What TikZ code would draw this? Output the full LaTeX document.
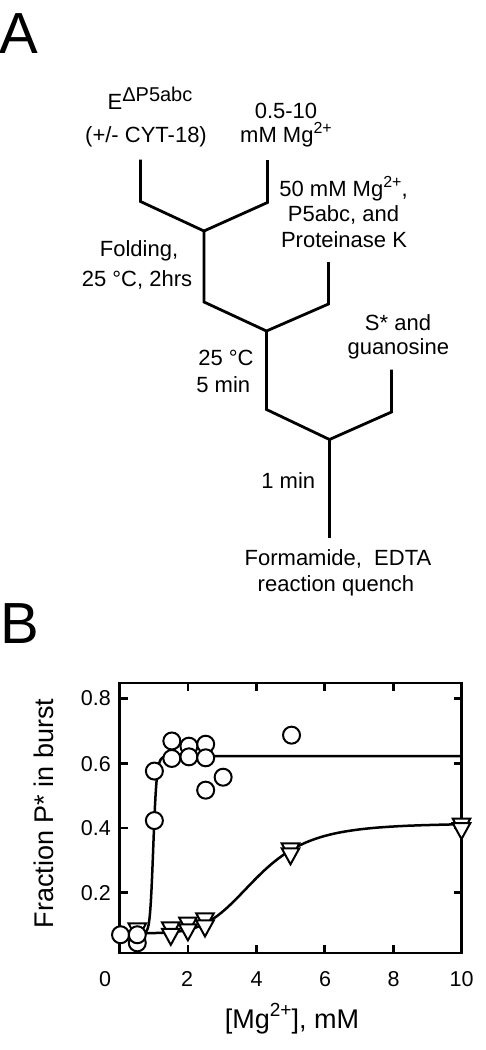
\documentclass[tikz,border=0pt]{standalone}
\usepackage{fontspec}
\setmainfont{Liberation Sans}
\newcommand\sups[3]{\raisebox{#1}{\fontsize{#2}{#2}\selectfont #3}}
\begin{document}
\begin{tikzpicture}[x=1pt,y=-1pt,
  branch/.style={line width=2.8pt, line join=miter},
  lbl/.style={font=\fontsize{22}{24}\selectfont, inner sep=0pt, anchor=base},
  ticklbl/.style={font=\fontsize{21.5}{24}\selectfont, inner sep=0pt},
  axlbl/.style={font=\fontsize{27}{30}\selectfont, inner sep=0pt, anchor=base},
  panel/.style={font=\fontsize{58}{60}\selectfont, inner sep=0pt, anchor=base west},
  frame/.style={line width=2.8pt},
  fitline/.style={line width=2.5pt, line join=round},
  mk/.style={line width=2pt, draw=black, fill=white},
  tri/.pic={\draw[mk] (-8.8pt,7.5pt) -- (8.8pt,7.5pt) -- (0pt,-8.5pt) -- cycle;}]
\useasboundingbox (0,0) rectangle (485,1050);

% ---------- Panel A ----------
\node[panel] (pA) at (-1,53.5) {A};

\coordinate (l1t) at (140.5,159.5);
\coordinate (l1b) at (140.5,201.5);
\coordinate (r1t) at (267.5,160);
\coordinate (r1b) at (267.5,202.5);
\coordinate (j1) at (204,231);
\coordinate (s1) at (204,302);
\coordinate (r2t) at (328.5,262);
\coordinate (r2b) at (328.5,304);
\coordinate (j2) at (266.5,331);
\coordinate (s2) at (266.5,409.5);
\coordinate (r3t) at (391.5,369.5);
\coordinate (r3b) at (391.5,412);
\coordinate (j3) at (329.5,439.5);
\coordinate (s3) at (329.5,538);

\draw[branch] (l1t) -- (l1b) -- (j1) -- (r1b) -- (r1t);
\draw[branch] (j1) -- (s1) -- (j2) -- (r2b) -- (r2t);
\draw[branch] (j2) -- (s2) -- (j3) -- (r3b) -- (r3t);
\draw[branch] (j3) -- (s3);

\node[lbl] (e1) at (150,109) {E\sups{0.36em}{20}{ΔP5abc}};
\node[lbl] (e2) at (146,142) {(+/- CYT-18)};
\node[lbl] (m1) at (286,118.3) {0.5-10};
\node[lbl] (m2) at (286,142.5) {mM Mg\sups{0.4em}{16}{2+}};
\node[lbl] (p1) at (343.5,196.7) {50 mM Mg\sups{0.4em}{16}{2+},};
\node[lbl] (p2) at (343.5,221.7) {P5abc, and};
\node[lbl] (p3) at (344,247) {Proteinase K};
\node[lbl] (f1) at (139,256.7) {Folding,};
\node[lbl] (f2) at (137,286.7) {25 °C, 2hrs};
\node[lbl] (g1) at (398,330) {S* and};
\node[lbl] (g2) at (398.3,354.5) {guanosine};
\node[lbl] (c1) at (226,365) {25 °C};
\node[lbl] (c2) at (223.3,392.7) {5 min};
\node[lbl] (n1) at (288.3,488.3) {1 min};
\node[lbl] (q1) at (338,565) {Formamide,~ EDTA};
\node[lbl] (q2) at (336,591) {reaction quench};

% ---------- Panel B ----------
\node[panel] (pB) at (0,643) {B};

\begin{scope}[shift={(119.5pt,-957.4pt)}, x=34.2pt, y=323.5pt]
  \draw[frame] (0,0.0136) rectangle (10,0.8482);
  \foreach \t in {2,4,6,8} {
    \draw[frame] (\t,0.0136) -- ++(0pt,8pt);
    \draw[frame] (\t,0.8482) -- ++(0pt,-8pt);
  }
  \foreach \t in {0.2,0.4,0.6,0.8} {
    \draw[frame] (0,\t) -- ++(8pt,0pt);
    \draw[frame] (10,\t) -- ++(-8pt,0pt);
  }
  % fits
  \draw[fitline] (0.5,0.0755) -- plot[domain=0.8:10, samples=90] (\x,{0.075+0.34/(1+pow(4/\x,5))});
  \draw[fitline] (0.03,0.076) -- plot[domain=0.75:1.6, samples=60] (\x,{0.076+0.546/(1+pow(0.99/\x,20))}) -- (10,0.622);
  % triangles
  \foreach \p in {(0.52,0.082),(1.5,0.085),(1.5,0.065),(2.0,0.1),(2.0,0.079),(2.5,0.113),(2.5,0.091),(5.0,0.329),(5.0,0.314),(10,0.406),(10,0.392)}
    \pic at \p {tri};
  % circles
  \foreach \p in {(0.03,0.07),(0.52,0.045),(0.52,0.07),(1.02,0.423),(1.02,0.576),(1.53,0.669),(1.53,0.615),(2.03,0.653),(2.03,0.620),(2.52,0.659),(2.52,0.617),(2.52,0.517),(3.03,0.557),(5.03,0.687)}
    \draw[mk] \p circle[radius=8.5pt];
\end{scope}

% tick labels
\node[ticklbl, anchor=east] (y8) at (111,698.3) {0.8};
\node[ticklbl, anchor=east] (y6) at (111,764) {0.6};
\node[ticklbl, anchor=east] (y4) at (111,827.7) {0.4};
\node[ticklbl, anchor=east] (y2) at (111,892.7) {0.2};
\node[ticklbl, anchor=base] (x0) at (105,986.7) {0};
\node[ticklbl, anchor=base] (x2) at (187,986.7) {2};
\node[ticklbl, anchor=base] (x4) at (256.5,986.7) {4};
\node[ticklbl, anchor=base] (x6) at (325,986.7) {6};
\node[ticklbl, anchor=base] (x8) at (393.5,986.7) {8};
\node[ticklbl, anchor=base] (x10) at (461.5,986.7) {10};

\node[axlbl] (xl) at (292,1028) {[Mg\sups{0.42em}{19}{2+}], mM};
\node[axlbl, rotate=90] (yl) at (53.3,813.5) {Fraction P* in burst};
\end{tikzpicture}
\end{document}
